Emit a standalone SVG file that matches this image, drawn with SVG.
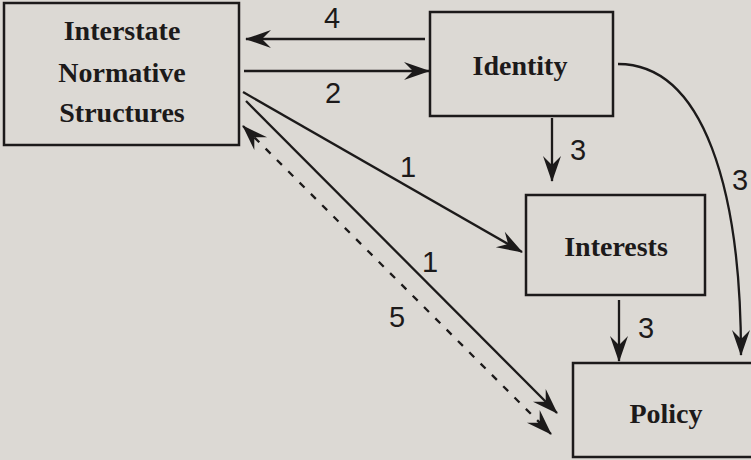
<svg xmlns="http://www.w3.org/2000/svg" width="751" height="460" viewBox="0 0 751 460">
<style>
.box{fill:none;stroke:#1c1a1a;stroke-width:2.5}
.nt{font-family:"Liberation Serif","Times New Roman",serif;font-weight:bold;font-size:28px;fill:#1c1a1a;text-anchor:middle}
.lb{font-family:"Liberation Sans",Arial,sans-serif;font-size:29px;fill:#1c1a1a;text-anchor:middle}
.ln{fill:none;stroke:#1c1a1a;stroke-width:2.3}
.dash{stroke-dasharray:7 9}
</style>
<defs>
<marker id="ah" viewBox="-26 -10 28 20" refX="0" refY="0" markerWidth="28" markerHeight="20" orient="auto-start-reverse" markerUnits="userSpaceOnUse">
<path d="M1,0 L-25,-9 L-16,0 L-25,9 Z" fill="#1c1a1a"/>
</marker>
</defs>
<rect width="751" height="460" fill="#dcd9d4"/>
<g id="n-structures">
<rect class="box" x="4" y="3" width="235" height="142"/>
<text class="nt" x="122" y="40">Interstate</text>
<text class="nt" x="122" y="82">Normative</text>
<text class="nt" x="122" y="122">Structures</text>
</g>
<g id="n-identity">
<rect class="box" x="430" y="12" width="183" height="104"/>
<text class="nt" x="520" y="75">Identity</text>
</g>
<g id="n-interests">
<rect class="box" x="526" y="195" width="179" height="100"/>
<text class="nt" x="616" y="256">Interests</text>
</g>
<g id="n-policy">
<rect class="box" x="573" y="363" width="195" height="94"/>
<text class="nt" x="666" y="423">Policy</text>
</g>
<g id="connectors">
<line class="ln" x1="425" y1="39" x2="246" y2="39" marker-end="url(#ah)"/>
<line class="ln" x1="244" y1="71" x2="429" y2="71" marker-end="url(#ah)"/>
<line class="ln" x1="243" y1="92" x2="522" y2="252" marker-end="url(#ah)"/>
<line class="ln" x1="246" y1="101" x2="557" y2="413" marker-end="url(#ah)"/>
<line class="ln dash" x1="243" y1="126" x2="551" y2="434" marker-start="url(#ah)" marker-end="url(#ah)"/>
<line class="ln" x1="552" y1="118" x2="552" y2="181" marker-end="url(#ah)"/>
<line class="ln" x1="619" y1="300" x2="619" y2="361" marker-end="url(#ah)"/>
<path class="ln" d="M618,64 C704,64 741,190 741,355" marker-end="url(#ah)"/>
<text class="lb" x="332" y="28">4</text>
<text class="lb" x="333" y="103">2</text>
<text class="lb" x="408" y="177">1</text>
<text class="lb" x="430" y="272">1</text>
<text class="lb" x="397" y="327">5</text>
<text class="lb" x="578" y="160">3</text>
<text class="lb" x="646" y="338">3</text>
<text class="lb" x="740" y="190">3</text>
</g>
</svg>
